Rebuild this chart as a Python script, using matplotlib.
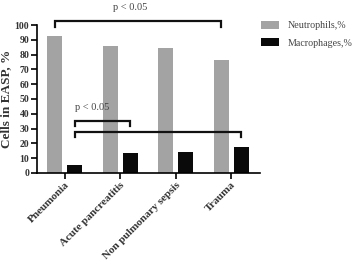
import matplotlib.pyplot as plt
import numpy as np

plt.rcParams['font.family'] = ['Liberation Serif', 'DejaVu Serif']

groups = ['Pneumonia', 'Acute pancreatitis', 'Non pulmonary sepsis', 'Trauma']
neutrophils = [92.6, 85.9, 84.4, 76.7]
macrophages = [5.4, 13.4, 14.3, 17.2]
yticks = list(range(0, 101, 10))

fig = plt.figure(figsize=(3.58, 2.64), dpi=100)
ax = fig.add_axes([0.103, 0.345, 0.623, 0.560])

x = np.arange(len(groups))
off = 0.18
w = 0.27
ax.bar(x - off, neutrophils, w, color='#a3a3a3', label='Neutrophils,%')
ax.bar(x + off, macrophages, w, color='#0a0a0a', label='Macrophages,%')

ax.set_xlim(-0.5, 3.52)
ax.set_ylim(0, 100)
ax.set_yticks(yticks)
ax.set_xticks(x)
ax.set_xticklabels(groups, rotation=45, ha='right', rotation_mode='anchor',
                   fontsize=8, fontweight='bold', color='#333333')
for lab in ax.get_yticklabels():
    lab.set_fontsize(7)
    lab.set_fontweight('bold')
    lab.set_color('#333333')
ax.tick_params(axis='both', direction='out', length=4, width=1.2, pad=1.5)
ax.set_ylabel('Cells in EASP, %', fontsize=9.5, fontweight='bold', color='#333333', labelpad=2)

for s in ['top', 'right']:
    ax.spines[s].set_visible(False)
for s in ['left', 'bottom']:
    ax.spines[s].set_linewidth(1.2)


def bracket(x1, x2, y, drop, text=None, ty=None):
    ax.plot([x1, x1, x2, x2], [y - drop, y, y, y - drop], color='#111111',
            lw=1.6, clip_on=False, solid_joinstyle='miter')
    if text:
        ax.text(ty[0], ty[1], text, ha='center', va='center',
                fontsize=7.5, color='#444444', clip_on=False)


bracket(0 - off, 3 - off, 102.7, 4, 'p < 0.05', (1.18, 112))
bracket(0 + off, 1 + off, 35, 3.5, 'p < 0.05', (0.5, 44))
bracket(0 + off, 3 + off, 27.5, 3.5)

fig.legend(loc='upper left', bbox_to_anchor=(0.705, 0.955), frameon=False,
           fontsize=7.2, handlelength=1.8, handleheight=0.9, handletextpad=0.8,
           labelspacing=0.75, labelcolor='#444444')

fig.savefig('out.png', dpi=100)
